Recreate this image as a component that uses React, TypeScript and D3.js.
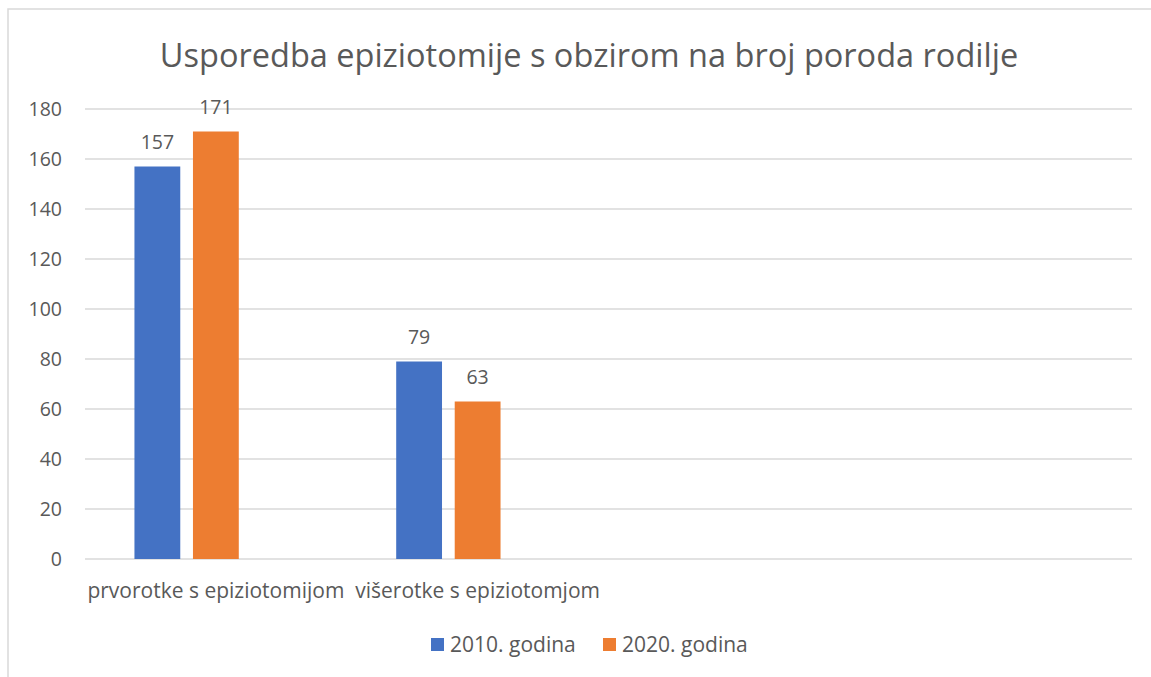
import { scaleBand, scaleLinear } from 'd3';

const title = 'Usporedba epiziotomije s obzirom na broj poroda rodilje';
// four category slots on the axis, only the first two carry data
const categories = ['prvorotke s epiziotomijom', 'višerotke s epiziotomjom', ' ', '  '];
const seriesNames = ['2010. godina', '2020. godina'];
const series2010 = [157, 79];
const series2020 = [171, 63];
// the cluster has room for a third (empty) series slot
const slots = ['2010. godina', '2020. godina', 'empty'];
const yTicks = [0, 20, 40, 60, 80, 100, 120, 140, 160, 180];
const colors = ['#4472C4', '#ED7D31'];

const W = 1151;
const H = 677;
const font = '"Open Sans", Lato, sans-serif';
const textColor = '#595959';

const App = () => {
  const x0 = scaleBand().domain(categories).range([85, 1132]);
  const x1 = scaleBand()
    .domain(slots)
    .range([0, x0.bandwidth()])
    .paddingInner(0.217)
    .paddingOuter(0.845);
  const y = scaleLinear().domain([0, 180]).range([559, 109]);

  const values = [series2010, series2020];

  const legendX = scaleBand().domain(seriesNames).range([431, 775]);

  return (
    <svg
      width={W}
      height={H}
      style={{ position: 'absolute', left: 0, top: 0, background: '#fff' }}
    >
      <rect x={8} y={9} width={W + 20} height={H + 20} fill="#fff" stroke="#d9d9d9" strokeWidth={1.5} />
      <text
        x={589}
        y={67}
        textAnchor="middle"
        fontFamily={font}
        fontSize={32.5}
        fill={textColor}
      >
        {title}
      </text>

      {yTicks.map((t) => (
        <g key={t}>
          <line x1={85} x2={1132} y1={y(t)} y2={y(t)} stroke="#d9d9d9" strokeWidth={1.5} />
          <text
            x={62}
            y={y(t)}
            dy="0.36em"
            textAnchor="end"
            fontFamily={font}
            fontSize={19.5}
            fill={textColor}
          >
            {t}
          </text>
        </g>
      ))}

      {categories.map((c, ci) => (
        <g key={c} transform={`translate(${x0(c)},0)`}>
          {values.map((vals, si) => {
            const v = vals[ci];
            if (v === undefined) return null;
            const bx = x1(slots[si]) as number;
            return (
              <g key={si}>
                <rect
                  x={bx}
                  y={y(v)}
                  width={x1.bandwidth()}
                  height={y(0) - y(v)}
                  fill={colors[si]}
                />
                <text
                  x={bx + x1.bandwidth() / 2}
                  y={y(v) - 18}
                  textAnchor="middle"
                  fontFamily={font}
                  fontSize={19.5}
                  fill={textColor}
                >
                  {v}
                </text>
              </g>
            );
          })}
          <text
            x={x0.bandwidth() / 2}
            y={598}
            textAnchor="middle"
            fontFamily={font}
            fontSize={21}
            fill={textColor}
          >
            {c.trim()}
          </text>
        </g>
      ))}

      {seriesNames.map((s, i) => (
        <g key={s} transform={`translate(${legendX(s)},638)`}>
          <rect x={0} y={0} width={13} height={13} fill={colors[i]} />
          <text x={19} y={14} fontFamily={font} fontSize={21} fill={textColor}>
            {s}
          </text>
        </g>
      ))}
    </svg>
  );
};

export default App;
